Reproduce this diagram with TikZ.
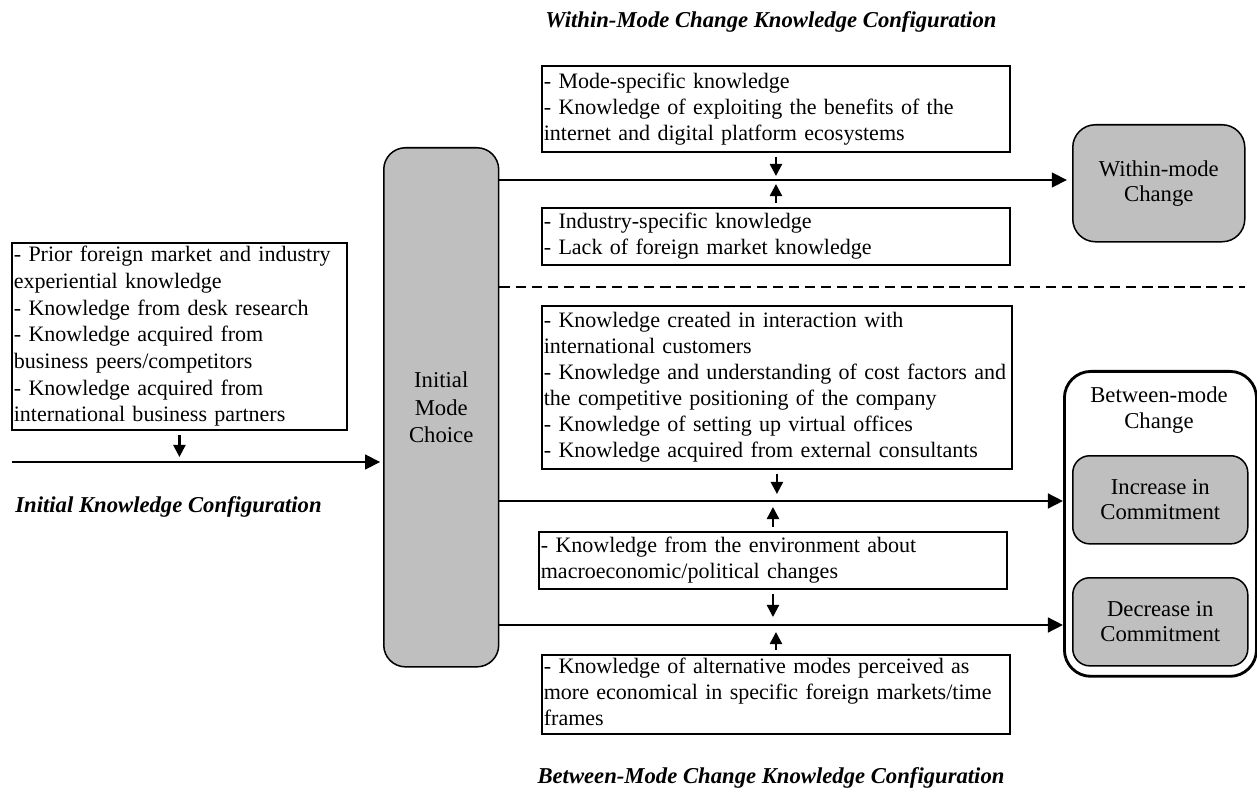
\documentclass[tikz,border=0pt]{standalone}
\usepackage{fontspec}
\setmainfont{Liberation Serif}
\usetikzlibrary{arrows.meta}
\newcommand\klines[1]{\begin{tabular}{@{}l@{}}#1\end{tabular}}
\tikzset{
  base/.style={font=\fontsize{11.65pt}{13.8pt}\selectfont},
  kbox/.style={base, draw, line width=1pt, anchor=north west, align=left, inner xsep=1pt, inner ysep=0pt},
  gbox/.style={draw, line width=0.8pt, fill=black!25, anchor=north west, align=center, inner sep=0pt, font=\fontsize{12pt}{13.4pt}\selectfont},
  marr/.style={line width=1.3pt, -{Triangle[length=8pt,width=7.8pt]}},
  sarr/.style={line width=1.2pt, -{Triangle[length=6.4pt,width=6.4pt]}, shorten <=2pt},
  dline/.style={line width=0.8pt, dash pattern=on 5.5pt off 3pt},
  ttl/.style={font=\fontsize{12pt}{13.8pt}\selectfont\bfseries\itshape, inner sep=0pt},
}
\begin{document}
\begin{tikzpicture}[x=0.529pt, y=-0.529pt]
\useasboundingbox (0,0) rectangle (1257,794);

% titles
\node[ttl] (t1) at (771,22) {Within-Mode Change Knowledge Configuration};
\node[ttl] (t2) at (771,778) {Between-Mode Change Knowledge Configuration};
\node[ttl, anchor=west] (t3) at (15,507) {Initial Knowledge Configuration};

% knowledge boxes
\node[kbox, minimum width=177.2pt, minimum height=98.9pt, text width=175.2pt, font=\fontsize{11.65pt}{14.1pt}\selectfont] (prior) at (11,242)
  {\klines{- Prior foreign market and industry\\experiential knowledge\\- Knowledge from desk research\\- Knowledge acquired from\\business peers/competitors\\- Knowledge acquired from\\international business partners}};
\node[kbox, minimum width=247.6pt, minimum height=45.5pt, text width=245.6pt] (box1) at (541,65)
  {\klines{- Mode-specific knowledge\\- Knowledge of exploiting the benefits of the\\internet and digital platform ecosystems}};
\node[kbox, minimum width=247.6pt, minimum height=30.2pt, text width=245.6pt] (box2) at (541,207)
  {\klines{- Industry-specific knowledge\\- Lack of foreign market knowledge}};
\node[kbox, minimum width=248.6pt, minimum height=86.2pt, text width=246.6pt] (box3) at (541,305)
  {\klines{- Knowledge created in interaction with\\international customers\\- Knowledge and understanding of cost factors and\\the competitive positioning of the company\\- Knowledge of setting up virtual offices\\- Knowledge acquired from external consultants}};
\node[kbox, minimum width=247.6pt, minimum height=30.2pt, text width=245.6pt] (box4) at (538,531)
  {\klines{- Knowledge from the environment about\\macroeconomic/political changes}};
\node[kbox, minimum width=247.6pt, minimum height=41.8pt, text width=245.6pt] (box5) at (541,654)
  {\klines{- Knowledge of alternative modes perceived as\\more economical in specific foreign markets/time\\frames}};

% mode boxes
\node[gbox, rounded corners=11.5pt, minimum width=60.8pt, minimum height=274.6pt, font=\fontsize{12pt}{14.5pt}\selectfont] (imc) at (383,147) {Initial\\Mode\\Choice};
\node[gbox, rounded corners=12pt, minimum width=91pt, minimum height=61.9pt] (wmc) at (1072,124) {Within-mode\\Change};
\node[draw, line width=1.5pt, rounded corners=14pt, minimum width=101.6pt, minimum height=161.3pt, anchor=north west, inner sep=0pt] (bmc) at (1063,370) {};
\node[align=center, inner sep=0pt, font=\fontsize{12pt}{13.4pt}\selectfont] (bmcl) at (1159,410) {Between-mode\\Change};
\node[gbox, rounded corners=9pt, minimum width=92.6pt, minimum height=46.6pt] (inc) at (1072,455) {Increase in\\Commitment};
\node[gbox, rounded corners=9pt, minimum width=92.6pt, minimum height=46.6pt] (dec) at (1072,577) {Decrease in\\Commitment};

% main arrows
\coordinate (i0) at (12,462);
\coordinate (y1) at (0,180);
\coordinate (y2) at (0,501);
\coordinate (y3) at (0,625);
\draw[marr, shorten >=1.5pt] (i0) -- (imc.west |- i0);
\draw[marr, shorten >=2.7pt] (imc.east |- y1) -- (wmc.west |- y1);
\draw[marr] (imc.east |- y2) -- (bmc.west |- y2);
\draw[marr] (imc.east |- y3) -- (bmc.west |- y3);

% dashed separator
\coordinate (d0) at (0,287);
\coordinate (d1) at (1245,287);
\draw[dline] (imc.east |- d0) -- (d1);

% small influence arrows
\coordinate (a1) at (0,176);
\coordinate (a2) at (0,184);
\coordinate (a3) at (0,494);
\coordinate (a4) at (0,507);
\coordinate (a5) at (0,617);
\coordinate (a6) at (0,632);
\coordinate (a7) at (0,457);
\draw[sarr] (box1.south) -- (box1.south |- a1);
\draw[sarr] (box2.north) -- (box2.north |- a2);
\draw[sarr] (box3.south) -- (box3.south |- a3);
\draw[sarr] (box4.north) -- (box4.north |- a4);
\draw[sarr] (box4.south) -- (box4.south |- a5);
\draw[sarr] (box5.north) -- (box5.north |- a6);
\draw[sarr] (prior.south) -- (prior.south |- a7);
\end{tikzpicture}
\end{document}
